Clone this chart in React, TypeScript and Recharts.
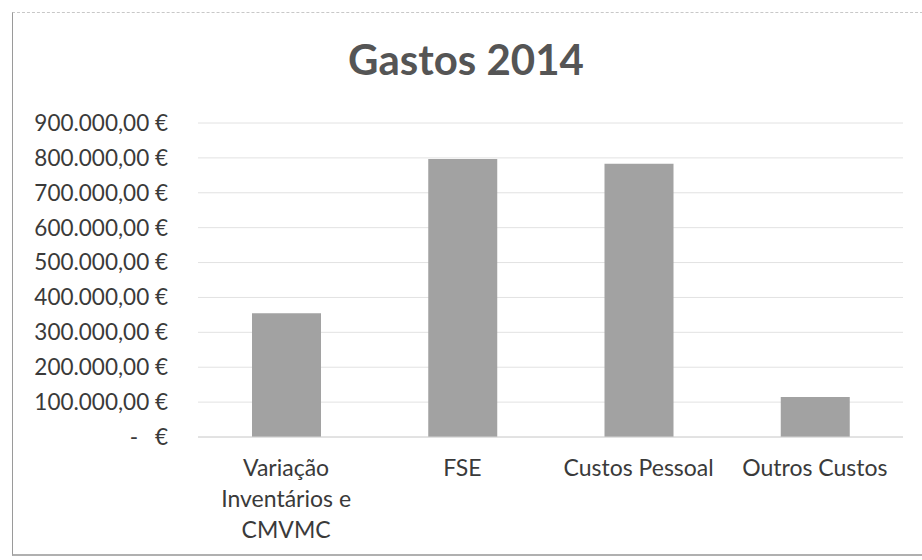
import React from 'react';
import { BarChart, Bar, XAxis, YAxis, CartesianGrid } from 'recharts';

const categories = ['Variação Inventários e CMVMC', 'FSE', 'Custos Pessoal', 'Outros Custos'];
const gastos = [355000, 797000, 783000, 115000];
const yTicks = [0, 100000, 200000, 300000, 400000, 500000, 600000, 700000, 800000, 900000];

const data = categories.map((name, i) => ({ name, value: gastos[i] }));

const FONT = 'Lato, "Open Sans", sans-serif';

// 900.000,00 € style (pt-PT accounting)
function fmtEuro(v: number) {
  const s = Math.round(v).toString().replace(/\B(?=(\d{3})+(?!\d))/g, '.');
  return s + ',00 €';
}

function wrap(label: string, maxChars = 14) {
  const words = label.split(' ');
  const lines: string[] = [];
  let cur = '';
  words.forEach(w => {
    const next = cur ? cur + ' ' + w : w;
    if (next.length > maxChars && cur) { lines.push(cur); cur = w; } else cur = next;
  });
  if (cur) lines.push(cur);
  return lines;
}

const YTick = (props: any) => {
  const { x, y, payload } = props;
  const common = { fontFamily: FONT, fontSize: 22.5, fill: '#3a3a3a' };
  if (payload.value === 0) {
    return (
      <g>
        <text x={x - 30} y={y} dy="0.35em" textAnchor="end" {...common}>-</text>
        <text x={x} y={y} dy="0.35em" textAnchor="end" {...common}>€</text>
      </g>
    );
  }
  return <text x={x} y={y} dy="0.35em" textAnchor="end" {...common}>{fmtEuro(payload.value)}</text>;
};

const XTick = (props: any) => {
  const { x, y, payload } = props;
  const lines = wrap(String(payload.value));
  return (
    <g>
      {lines.map((l, i) => (
        <text key={i} x={x} y={y + 31 + i * 31} dy="0.35em" textAnchor="middle"
          fontFamily={FONT} fontSize={23} fill="#3a3a3a">{l}</text>
      ))}
    </g>
  );
};

export default function App() {
  return (
    <div style={{ position: 'absolute', left: 0, top: 0, width: 922, height: 560, background: '#fff', overflow: 'hidden' }}>
      <div style={{ position: 'absolute', left: 12, top: 12, width: 930, height: 541, borderLeft: '1px solid #9a9a9a', borderTop: '1px dashed #c8c8c8', borderBottom: '2px solid #b0b0b0' }} />
      <div style={{ position: 'absolute', left: 0, width: 932, top: 34, textAlign: 'center', fontFamily: FONT, fontWeight: 700, fontSize: 42, color: '#555555' }}>
        Gastos 2014
      </div>
      <BarChart width={922} height={560} data={data} margin={{ top: 123, right: 19, left: 0, bottom: 0 }}>
        <CartesianGrid vertical={false} stroke="#e2e2e2" />
        <XAxis dataKey="name" height={123} axisLine={{ stroke: '#d4d4d4' }} tickLine={false} tickSize={0} tickMargin={0}
          interval={0} tick={<XTick />} />
        <YAxis width={198} domain={[0, 900000]} ticks={yTicks} axisLine={false} tickLine={false} tickSize={0} tickMargin={30}
          tick={<YTick />} />
        <Bar dataKey="value" fill="#a2a2a2" barSize={69} isAnimationActive={false} />
      </BarChart>
    </div>
  );
}
